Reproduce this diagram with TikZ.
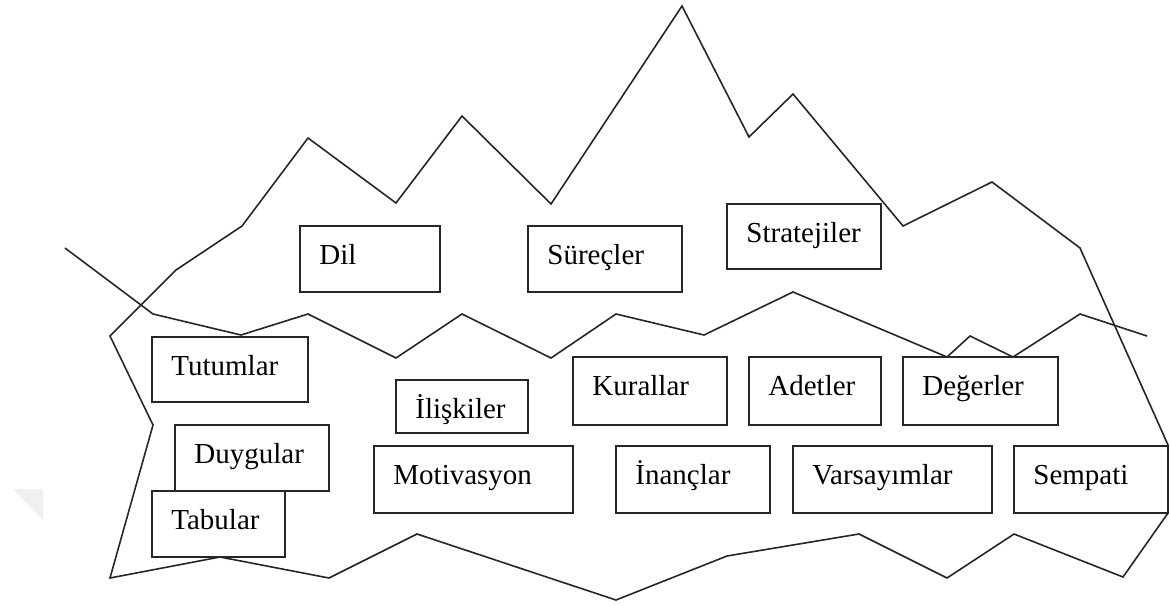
\documentclass[tikz,border=0pt]{standalone}
\usepackage{fontspec}
\setmainfont{Liberation Serif}
\usetikzlibrary{calc}
\begin{document}
\begin{tikzpicture}[x=0.5pt,y=-0.5pt,
  outline/.style={line width=0.8pt, line join=miter, draw=black!85},
  conceptbox/.style={draw=black!85, line width=0.9pt, fill=white, rectangle,
    inner sep=0pt, outer sep=0pt, anchor=north west},
  concepttext/.style={anchor=base west, inner sep=0pt,
    font=\fontsize{14.5}{17}\selectfont}]

% concept box: name, left, top, width, height, label
\newcommand\concept[6]{%
  \node[conceptbox, minimum width=#4*0.5pt, minimum height=#5*0.5pt] (#1) at (#2,#3) {};
  \node[concepttext] (#1-text) at ($(#1.north west)+(19,38)$) {#6};
}

\useasboundingbox (0,0) rectangle (1170,605);

% faint mark at the left margin
\fill[gray!12] (13,489) -- (43,489) -- (43,520) -- cycle;

% iceberg outline
\draw[outline] (110,336) -- (176,270) -- (242,226) -- (308,138) -- (396,203)
  -- (462,116) -- (551,204) -- (682,6) -- (749,137) -- (793,94) -- (903,226)
  -- (992,182) -- (1080,248) -- (1168,445) -- (1168,513) -- (1123,577)
  -- (1014,534) -- (947,578) -- (859,534) -- (727,556) -- (616,600)
  -- (417,534) -- (329,578) -- (220,557) -- (110,578) -- (153,425) -- cycle;

% water line
\draw[outline] (65,248) -- (153,314) -- (241,335) -- (308,314) -- (396,358)
  -- (462,314) -- (551,358) -- (616,314) -- (704,335) -- (793,292)
  -- (947,357) -- (970,336) -- (1013,357) -- (1080,314) -- (1147,336);

% visible part
\concept{dil}{300}{226}{140}{66}{Dil}
\concept{surecler}{528}{226}{154}{66}{Süreçler}
\concept{stratejiler}{727}{204}{154}{65}{Stratejiler}

% hidden part
\concept{tutumlar}{152}{337}{156}{65}{Tutumlar}
\concept{duygular}{175}{425}{154}{66}{Duygular}
\concept{tabular}{152}{491}{133}{66}{Tabular}
\concept{iliskiler}{396}{380}{132}{53}{İlişkiler}
\concept{motivasyon}{374}{446}{199}{67}{Motivasyon}
\concept{kurallar}{573}{357}{154}{68}{Kurallar}
\concept{adetler}{749}{357}{132}{68}{Adetler}
\concept{degerler}{903}{357}{155}{68}{Değerler}
\concept{inanclar}{616}{446}{154}{67}{İnançlar}
\concept{varsayimlar}{793}{446}{199}{67}{Varsayımlar}
\concept{sempati}{1014}{446}{154}{67}{Sempati}
\end{tikzpicture}
\end{document}
